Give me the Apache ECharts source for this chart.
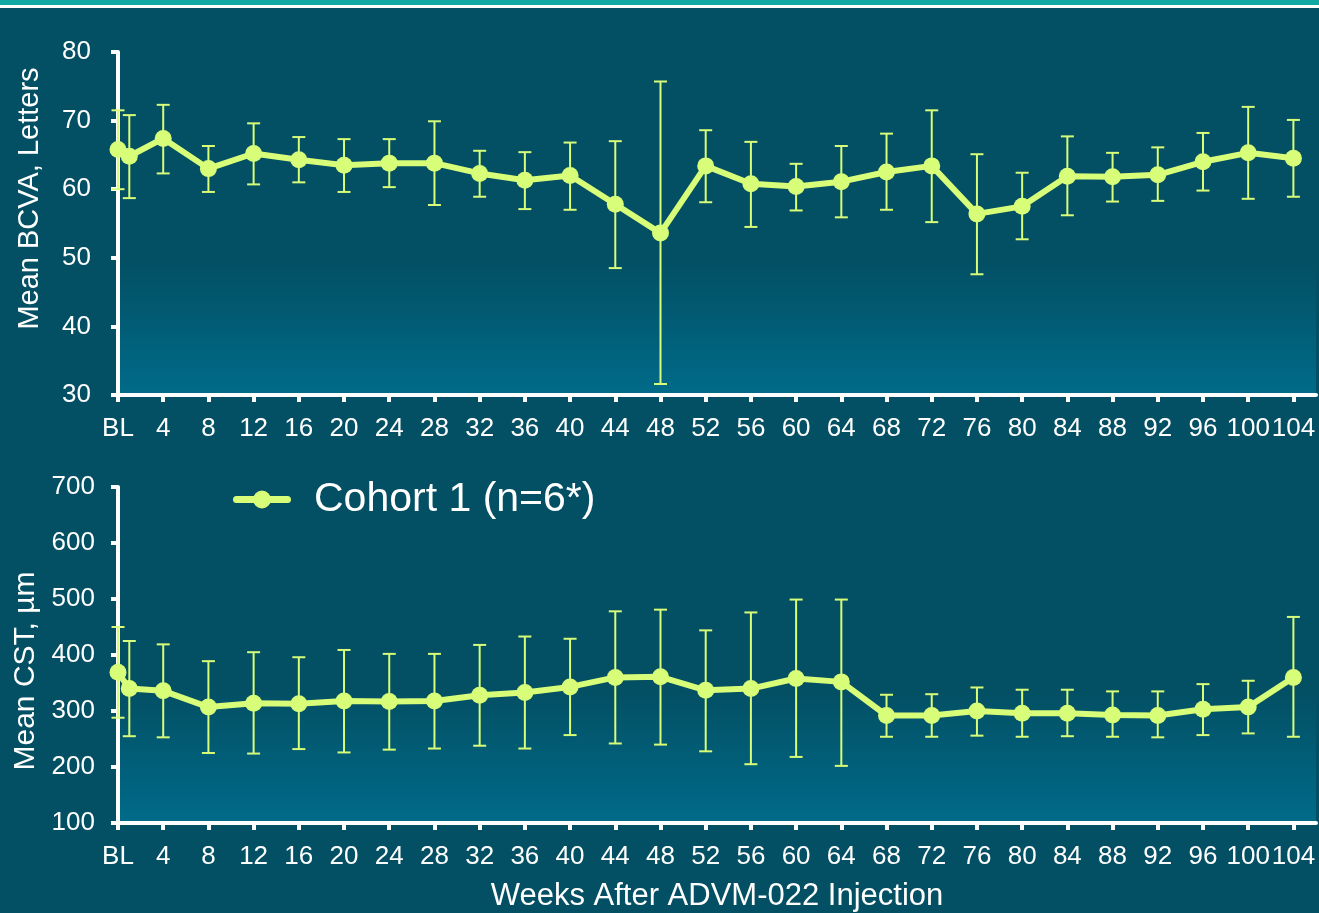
<!DOCTYPE html>
<html>
<head>
<meta charset="utf-8">
<script src="https://cdn.jsdelivr.net/npm/echarts@6/dist/echarts.min.js"></script>
<style>
html,body{margin:0;padding:0;background:#034f63;}
#chart{width:1319px;height:913px;}
</style>
</head>
<body>
<div id="chart"></div>
<script>
// ---- data ----
var weeks = [0,1,4,8,12,16,20,24,28,32,36,40,44,48,52,56,60,64,68,72,76,80,84,88,92,96,100,104];
var tickWeeks = [0,4,8,12,16,20,24,28,32,36,40,44,48,52,56,60,64,68,72,76,80,84,88,92,96,100,104];
var tickLabels = ['BL','4','8','12','16','20','24','28','32','36','40','44','48','52','56','60','64','68','72','76','80','84','88','92','96','100','104'];

var bcvaMean = [65.8,64.8,67.4,63.0,65.2,64.3,63.5,63.8,63.8,62.3,61.3,62.0,57.8,53.6,63.4,60.8,60.4,61.1,62.5,63.4,56.4,57.5,61.9,61.8,62.1,64.0,65.3,64.5];
var bcvaHigh = [71.5,70.8,72.3,66.3,69.6,67.6,67.3,67.3,69.9,65.6,65.4,66.8,67.0,75.7,68.6,66.9,63.7,66.3,68.1,71.5,65.1,62.4,67.7,65.3,66.1,68.2,72.0,70.1];
var bcvaLow  = [60.0,58.7,62.3,59.6,60.7,61.0,59.6,60.3,57.7,58.9,57.1,57.0,48.5,31.6,58.1,54.5,56.9,55.9,57.0,55.2,47.6,52.7,56.2,58.2,58.3,59.8,58.6,58.9];

var cstMean = [369,340,336,307,314,313,318,317,318,328,333,343,360,361,337,340,358,352,292,292,300,296,296,293,292,303,307,360];
var cstHigh = [450,425,419,389,405,396,409,402,402,418,433,429,478,481,444,476,499,499,329,330,342,338,338,335,335,348,354,468];
var cstLow  = [288,255,253,225,224,232,226,231,233,238,233,257,242,240,228,205,218,202,254,254,256,254,255,254,253,257,260,254];

var seriesName = 'Cohort 1 (n=6*)';
var xName = 'Weeks After ADVM-022 Injection';
var yName1 = 'Mean BCVA, Letters';
var yName2 = 'Mean CST, \u00b5m';

// ---- styling ----
var LIME = '#d8fd78';
var WHITE = '#ffffff';
var FONT = '"Liberation Sans", Arial, sans-serif';
var LEGEND_ICON = 'path://M3.5,5.5 L54.5,5.5 A3.5,3.5 0 0 1 54.5,12.5 L3.5,12.5 A3.5,3.5 0 0 1 3.5,5.5 Z M20,9 A9,9 0 1 1 38,9 A9,9 0 1 1 20,9 Z';

function pairs(xs, ys){ return xs.map(function(x,i){ return [x, ys[i]]; }); }
function triples(xs, lo, hi){ return xs.map(function(x,i){ return [x, lo[i], hi[i]]; }); }

function plotGradient(){
  return new echarts.graphic.LinearGradient(0,0,0,1,[
    {offset:0, color:'#034f63'},
    {offset:0.6, color:'#034f63'},
    {offset:1, color:'#006b89'}
  ]);
}

function errorRender(params, api){
  var x = api.value(0);
  var lo = api.coord([x, api.value(1)]);
  var hi = api.coord([x, api.value(2)]);
  var hw = 6.5;
  var st = {stroke: LIME, lineWidth: 2, fill: null};
  return {type:'group', children:[
    {type:'line', shape:{x1:lo[0],y1:lo[1],x2:hi[0],y2:hi[1]}, style:st},
    {type:'line', shape:{x1:lo[0]-hw,y1:lo[1],x2:lo[0]+hw,y2:lo[1]}, style:st},
    {type:'line', shape:{x1:hi[0]-hw,y1:hi[1],x2:hi[0]+hw,y2:hi[1]}, style:st}
  ]};
}

function xAxisCfg(idx, withName){
  var c = {
    type:'value', gridIndex: idx, min:0, max:106,
    axisLine:{show:true, onZero:false, lineStyle:{color:WHITE, width:4}},
    axisTick:{show:true, customValues: tickWeeks, length:7, lineStyle:{color:WHITE, width:4}},
    axisLabel:{show:true, customValues: tickWeeks, margin:21, color:WHITE, fontSize:26, fontFamily:FONT,
      formatter:function(v){ var i = tickWeeks.indexOf(v); return i>=0 ? tickLabels[i] : ''; }},
    splitLine:{show:false}
  };
  if (withName){
    c.name = xName; c.nameLocation='middle'; c.nameGap=58;
    c.nameTextStyle = {color:WHITE, fontSize:31, fontFamily:FONT};
  }
  return c;
}

function yAxisCfg(idx, min, max, interval, name, gap, pad, fs, lm){
  return {
    type:'value', gridIndex: idx, min:min, max:max, interval:interval,
    name:name, nameLocation:'middle', nameGap:gap,
    nameTextStyle:{color:WHITE, fontSize:fs, fontFamily:FONT, padding:pad},
    axisLine:{show:true, lineStyle:{color:WHITE, width:4}},
    axisTick:{show:true, length:7, lineStyle:{color:WHITE, width:4}},
    axisLabel:{color:WHITE, fontSize:26, fontFamily:FONT, margin:lm},
    splitLine:{show:false}
  };
}

var chart = echarts.init(document.getElementById('chart'), null, {renderer:'canvas'});
var option = {
  backgroundColor:'#034f63',
  animation:false,
  textStyle:{fontFamily:FONT},
  graphic:[
    {type:'rect', left:0, top:0, shape:{width:1319, height:5}, style:{fill:'#10a8a0'}, z:100},
    {type:'rect', left:0, top:5, shape:{width:1319, height:3}, style:{fill:'#ffffff'}, z:100}
  ],
  legend:{
    left:228, top:474, itemWidth:58, itemHeight:18, itemGap:10,
    data:[{name:seriesName, icon:LEGEND_ICON}],
    textStyle:{color:WHITE, fontSize:41, fontFamily:FONT, padding:[0,0,0,18]}
  },
  grid:[
    {left:118, top:52, width:1198, height:343, show:true, borderWidth:0, backgroundColor:plotGradient()},
    {left:118, top:487, width:1198, height:337, show:true, borderWidth:0, backgroundColor:plotGradient()}
  ],
  xAxis:[xAxisCfg(0,false), xAxisCfg(1,true)],
  yAxis:[
    yAxisCfg(0, 30, 80, 10, yName1, 74, [0,0,0,50], 29, 27),
    yAxisCfg(1, 100, 700, 100, yName2, 77, [0,32,0,0], 30, 23)
  ],
  series:[
    {type:'custom', xAxisIndex:0, yAxisIndex:0, renderItem:errorRender, data:triples(weeks,bcvaLow,bcvaHigh), z:2, silent:true},
    {type:'custom', xAxisIndex:1, yAxisIndex:1, renderItem:errorRender, data:triples(weeks,cstLow,cstHigh), z:2, silent:true},
    {name:seriesName, type:'line', xAxisIndex:0, yAxisIndex:0, data:pairs(weeks,bcvaMean),
      symbol:'circle', symbolSize:17, lineStyle:{color:LIME, width:6}, itemStyle:{color:LIME}, z:5},
    {name:seriesName, type:'line', xAxisIndex:1, yAxisIndex:1, data:pairs(weeks,cstMean),
      symbol:'circle', symbolSize:17, lineStyle:{color:LIME, width:6}, itemStyle:{color:LIME}, z:5}
  ]
};
chart.setOption(option);
</script>
</body>
</html>
